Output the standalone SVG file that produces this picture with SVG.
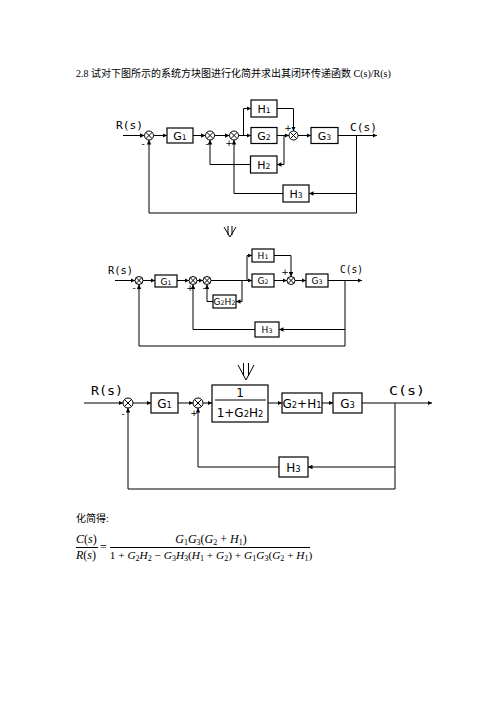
<svg xmlns="http://www.w3.org/2000/svg" width="496" height="702" viewBox="0 0 496 702">
<style>
.c{fill:none;stroke:#000;stroke-width:1}
.a{marker-end:url(#ar)}
.b{fill:#fff;stroke:#000;stroke-width:1.2}
.sj circle{fill:#fff;stroke:#000;stroke-width:1}
.sj path{stroke:#000;stroke-width:1;fill:none}
.l1{font-family:"DejaVu Sans","Liberation Sans",sans-serif;font-size:11px;text-anchor:middle}
.l2{font-family:"DejaVu Sans","Liberation Sans",sans-serif;font-size:9px;text-anchor:middle}
.l3{font-family:"DejaVu Sans","Liberation Sans",sans-serif;font-size:12px;text-anchor:middle}
.s{font-size:70%}
.sg{font-family:"DejaVu Sans",sans-serif;font-size:9px;text-anchor:middle}
.io{font-family:"DejaVu Sans Mono","Liberation Mono",monospace}
.t{font-family:"Liberation Serif","Noto Sans CJK SC",serif;font-size:10px}
.f{font-family:"Liberation Serif",serif;font-size:12px;font-style:italic}
.fd{font-size:11.3px}
.fs{font-size:8px}
.n{font-style:normal}
</style>
<defs>
<marker id="ar" viewBox="0 0 6 6" refX="6" refY="3" markerWidth="4.5" markerHeight="4.5" markerUnits="userSpaceOnUse" orient="auto"><path d="M0,0L6,3L0,6z" fill="#000"/></marker>
</defs>

<text class="t" x="76" y="77">2.8  试对下图所示的系统方块图进行化简并求出其闭环传递函数 C(s)/R(s)</text>

<!-- ===== Diagram 1 ===== -->
<g id="connectors1">
<path class="c a" d="M123,135.5H144.5"/>
<path class="c a" d="M153.5,135.5H167"/>
<path class="c a" d="M193,135.5H205.5"/>
<path class="c a" d="M214.5,135.5H229.5"/>
<path class="c a" d="M238.5,135.5H251"/>
<path class="c a" d="M243.5,135.5V108.5H251"/>
<path class="c a" d="M277,135.5H289"/>
<path class="c a" d="M277,108.5H293.5V131"/>
<path class="c a" d="M298,135.5H311"/>
<path class="c a" d="M338,135.5H377"/>
<path class="c a" d="M284,135.5V164.5H277"/>
<path class="c a" d="M250.5,164.5H210V140"/>
<path class="c a" d="M356.5,135.5V213H149V140"/>
<path class="c a" d="M356.5,193.5H309"/>
<path class="c a" d="M283,193.5H234V140"/>
</g>
<g id="d1-sum1" class="sj"><circle cx="149" cy="135.5" r="4.5"/><path d="M145.8,132.3L152.2,138.7M152.2,132.3L145.8,138.7"/></g>
<g id="d1-sum2" class="sj"><circle cx="210" cy="135.5" r="4.5"/><path d="M206.8,132.3L213.2,138.7M213.2,132.3L206.8,138.7"/></g>
<g id="d1-sum3" class="sj"><circle cx="234" cy="135.5" r="4.5"/><path d="M230.8,132.3L237.2,138.7M237.2,132.3L230.8,138.7"/></g>
<g id="d1-sum4" class="sj"><circle cx="293.5" cy="135.5" r="4.5"/><path d="M290.3,132.3L296.7,138.7M296.7,132.3L290.3,138.7"/></g>
<g id="d1-G1"><rect class="b" x="167" y="128" width="26" height="15"/><text class="l1" x="180" y="139.5">G<tspan class="s">1</tspan></text></g>
<g id="d1-H1"><rect class="b" x="251" y="100" width="26" height="17"/><text class="l1" x="264" y="112.5">H<tspan class="s">1</tspan></text></g>
<g id="d1-G2"><rect class="b" x="251" y="127.5" width="26" height="16"/><text class="l1" x="264" y="139.5">G<tspan class="s">2</tspan></text></g>
<g id="d1-G3"><rect class="b" x="311" y="127.5" width="27" height="16"/><text class="l1" x="324.5" y="139.5">G<tspan class="s">3</tspan></text></g>
<g id="d1-H2"><rect class="b" x="250.5" y="156" width="26.5" height="17"/><text class="l1" x="263.75" y="168.5">H<tspan class="s">2</tspan></text></g>
<g id="d1-H3"><rect class="b" x="283" y="185" width="26" height="17"/><text class="l1" x="296" y="197.5">H<tspan class="s">3</tspan></text></g>
<text class="io" x="116" y="129" font-size="11" textLength="27" lengthAdjust="spacingAndGlyphs">R(s)</text>
<text class="io" x="350" y="131" font-size="11" textLength="27" lengthAdjust="spacingAndGlyphs">C(s)</text>
<text class="sg" x="143" y="147">-</text>
<text class="sg" x="207" y="147">-</text>
<text class="sg" x="229" y="146">+</text>
<text class="sg" x="288" y="131">+</text>

<path class="c" d="M224,227L230,237L236,227M228,226V235M232,226V235"/>

<!-- ===== Diagram 2 ===== -->
<g id="connectors2">
<path class="c a" d="M115,280.5H135"/>
<path class="c a" d="M143,280.5H155"/>
<path class="c a" d="M177,280.5H189"/>
<path class="c a" d="M197,280.5H203"/>
<path class="c a" d="M211,280.5H252"/>
<path class="c a" d="M247,280.5V255.5H252"/>
<path class="c a" d="M242,280.5V301.5H236"/>
<path class="c a" d="M213,301.5H207V284.5"/>
<path class="c a" d="M274,280.5H287"/>
<path class="c a" d="M274,255.5H291V276.5"/>
<path class="c a" d="M295,280.5H306"/>
<path class="c a" d="M328,280.5H362"/>
<path class="c a" d="M345,280.5V346H139V284.5"/>
<path class="c a" d="M345,329.5H279"/>
<path class="c a" d="M255,329.5H193V284.5"/>
</g>
<g id="d2-sum1" class="sj"><circle cx="139" cy="280.5" r="4"/><path d="M136.2,277.7L141.8,283.3M141.8,277.7L136.2,283.3"/></g>
<g id="d2-sum2" class="sj"><circle cx="193" cy="280.5" r="4"/><path d="M190.2,277.7L195.8,283.3M195.8,277.7L190.2,283.3"/></g>
<g id="d2-sum3" class="sj"><circle cx="207" cy="280.5" r="4"/><path d="M204.2,277.7L209.8,283.3M209.8,277.7L204.2,283.3"/></g>
<g id="d2-sum4" class="sj"><circle cx="291" cy="280.5" r="4"/><path d="M288.2,277.7L293.8,283.3M293.8,277.7L288.2,283.3"/></g>
<g id="d2-G1"><rect class="b" x="155" y="275" width="22" height="12"/><text class="l2" x="166" y="284.5">G<tspan class="s">1</tspan></text></g>
<g id="d2-H1"><rect class="b" x="252" y="249" width="22" height="13"/><text class="l2" x="263" y="259">H<tspan class="s">1</tspan></text></g>
<g id="d2-G2"><rect class="b" x="252" y="274" width="22" height="13"/><text class="l2" x="263" y="284">G<tspan class="s">2</tspan></text></g>
<g id="d2-G3"><rect class="b" x="306" y="274" width="22" height="13"/><text class="l2" x="317" y="284">G<tspan class="s">3</tspan></text></g>
<g id="d2-G2H2"><rect class="b" x="213" y="295" width="23" height="13"/><text class="l2" x="224.5" y="305" font-size="8">G<tspan class="s">2</tspan>H<tspan class="s">2</tspan></text></g>
<g id="d2-H3"><rect class="b" x="255" y="322" width="24" height="15"/><text class="l2" x="267" y="333">H<tspan class="s">3</tspan></text></g>
<text class="io" x="108" y="274" font-size="10" textLength="25" lengthAdjust="spacingAndGlyphs">R(s)</text>
<text class="io" x="340" y="273" font-size="10" textLength="23" lengthAdjust="spacingAndGlyphs">C(s)</text>
<text class="sg" x="134" y="291" font-size="8">-</text>
<text class="sg" x="190" y="291" font-size="8">+</text>
<text class="sg" x="204" y="291" font-size="8">-</text>
<text class="sg" x="285" y="275" font-size="8">+</text>

<path class="c" d="M238,365L246,380L254,365M243.5,363V376M248.5,363V376"/>

<!-- ===== Diagram 3 ===== -->
<g id="connectors3">
<path class="c a" d="M84,403H123"/>
<path class="c a" d="M133,403H151"/>
<path class="c a" d="M178,403H193"/>
<path class="c a" d="M203,403H212"/>
<path class="c a" d="M268,403H282"/>
<path class="c a" d="M322,403H333"/>
<path class="c a" d="M362,403H432"/>
<path class="c a" d="M395,403V489H128V408"/>
<path class="c a" d="M395,467H308"/>
<path class="c a" d="M279,467H198V408"/>
</g>
<g id="d3-sum1" class="sj"><circle cx="128" cy="403" r="5"/><path d="M124.5,399.5L131.5,406.5M131.5,399.5L124.5,406.5"/></g>
<g id="d3-sum2" class="sj"><circle cx="198" cy="403" r="5"/><path d="M194.5,399.5L201.5,406.5M201.5,399.5L194.5,406.5"/></g>
<g id="d3-G1"><rect class="b" x="151" y="393" width="27" height="20"/><text class="l3" x="164.5" y="408">G<tspan class="s">1</tspan></text></g>
<g id="d3-F"><rect class="b" x="212" y="385" width="56" height="37"/><text class="l3" x="240" y="397">1</text><path class="c" d="M215,400H266"/><text class="l3" x="240" y="417">1+G<tspan class="s">2</tspan>H<tspan class="s">2</tspan></text></g>
<g id="d3-G2H1"><rect class="b" x="282" y="393" width="40" height="20"/><text class="l3" x="302" y="408">G<tspan class="s">2</tspan>+H<tspan class="s">1</tspan></text></g>
<g id="d3-G3"><rect class="b" x="333" y="393" width="29" height="20"/><text class="l3" x="347.5" y="408">G<tspan class="s">3</tspan></text></g>
<g id="d3-H3"><rect class="b" x="279" y="457" width="29" height="20"/><text class="l3" x="293.5" y="472">H<tspan class="s">3</tspan></text></g>
<text class="io" x="91" y="395" font-size="12" textLength="32" lengthAdjust="spacingAndGlyphs">R(s)</text>
<text class="io" x="389" y="395" font-size="12" textLength="36" lengthAdjust="spacingAndGlyphs">C(s)</text>
<text class="sg" x="123" y="417" font-size="10">-</text>
<text class="sg" x="194" y="416" font-size="10">+</text>

<!-- ===== Result ===== -->
<text class="t" x="76" y="522">化简得:</text>
<text class="f" x="76" y="543">C<tspan class="n">(</tspan>s<tspan class="n">)</tspan></text>
<path class="c" d="M76,547.5H98"/>
<text class="f" x="76" y="559">R<tspan class="n">(</tspan>s<tspan class="n">)</tspan></text>
<text class="f n" x="100" y="551">=</text>
<text class="f" x="211" y="543" text-anchor="middle">G<tspan class="fs n" dy="2">1</tspan><tspan dy="-2">G</tspan><tspan class="fs n" dy="2">3</tspan><tspan class="n" dy="-2">(</tspan>G<tspan class="fs n" dy="2">2</tspan><tspan class="n" dy="-2"> + </tspan>H<tspan class="fs n" dy="2">1</tspan><tspan class="n" dy="-2">)</tspan></text>
<path class="c" d="M110,547.5H310"/>
<text class="f fd" x="211" y="559" text-anchor="middle"><tspan class="n">1 + </tspan>G<tspan class="fs n" dy="2">2</tspan><tspan dy="-2">H</tspan><tspan class="fs n" dy="2">2</tspan><tspan class="n" dy="-2"> − </tspan>G<tspan class="fs n" dy="2">3</tspan><tspan dy="-2">H</tspan><tspan class="fs n" dy="2">3</tspan><tspan class="n" dy="-2">(</tspan>H<tspan class="fs n" dy="2">1</tspan><tspan class="n" dy="-2"> + </tspan>G<tspan class="fs n" dy="2">2</tspan><tspan class="n" dy="-2">) + </tspan>G<tspan class="fs n" dy="2">1</tspan><tspan dy="-2">G</tspan><tspan class="fs n" dy="2">3</tspan><tspan class="n" dy="-2">(</tspan>G<tspan class="fs n" dy="2">2</tspan><tspan class="n" dy="-2"> + </tspan>H<tspan class="fs n" dy="2">1</tspan><tspan class="n" dy="-2">)</tspan></text>
</svg>
